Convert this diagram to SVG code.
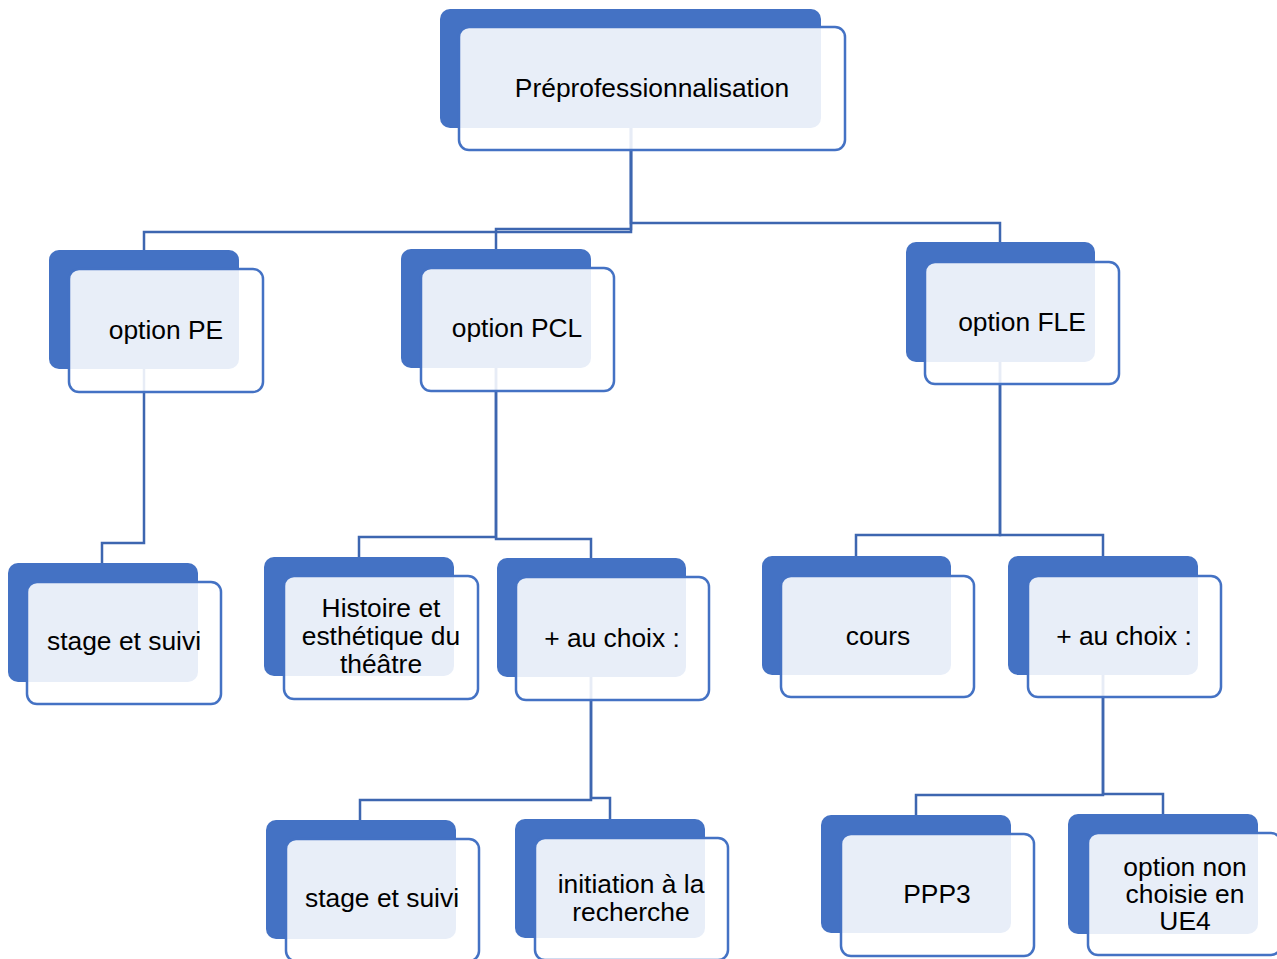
<svg xmlns="http://www.w3.org/2000/svg" width="1277" height="959" viewBox="0 0 1277 959">
<style>
.back{fill:#4472C4;}
.front{fill:#FFFFFF;fill-opacity:0.88;stroke:#4472C4;stroke-width:2.5;}
.lbl{font-family:"Liberation Sans",Arial,sans-serif;font-size:26.4px;fill:#000000;text-anchor:middle;}
.conn{fill:none;stroke:#3D66B0;stroke-width:2.5;}
</style>
<rect width="1277" height="959" fill="#FFFFFF"/>
<g id="connectors">
<path class="conn" d="M631,128 V232 H144 V250"/>
<path class="conn" d="M631,128 V229 H496 V249"/>
<path class="conn" d="M631,128 V223 H1000 V242"/>
<path class="conn" d="M144,369 V543 H102 V563"/>
<path class="conn" d="M496,368 V537 H359 V557"/>
<path class="conn" d="M496,368 V539 H591 V558"/>
<path class="conn" d="M1000,362 V535 H856 V556"/>
<path class="conn" d="M1000,362 V535 H1103 V556"/>
<path class="conn" d="M591,677 V800 H360 V820"/>
<path class="conn" d="M591,677 V798 H610 V819"/>
<path class="conn" d="M1103,675 V795 H916 V815"/>
<path class="conn" d="M1103,675 V794 H1163 V814"/>
</g>
<g id="n-prepro">
<rect class="back" x="440" y="9" width="381" height="119" rx="10"/>
<rect class="front" x="459" y="27" width="386" height="123" rx="10"/>
<text class="lbl" x="652" y="97">Préprofessionnalisation</text>
</g>
<g id="n-pe">
<rect class="back" x="49" y="250" width="190" height="119" rx="10"/>
<rect class="front" x="69" y="269" width="194" height="123" rx="10"/>
<text class="lbl" x="166" y="339">option PE</text>
</g>
<g id="n-pcl">
<rect class="back" x="401" y="249" width="190" height="119" rx="10"/>
<rect class="front" x="421" y="268" width="193" height="123" rx="10"/>
<text class="lbl" x="517" y="337">option PCL</text>
</g>
<g id="n-fle">
<rect class="back" x="906" y="242" width="189" height="120" rx="10"/>
<rect class="front" x="925" y="262" width="194" height="122" rx="10"/>
<text class="lbl" x="1022" y="331">option FLE</text>
</g>
<g id="n-stage1">
<rect class="back" x="8" y="563" width="190" height="119" rx="10"/>
<rect class="front" x="27" y="582" width="194" height="122" rx="10"/>
<text class="lbl" x="124" y="650">stage et suivi</text>
</g>
<g id="n-histoire">
<rect class="back" x="264" y="557" width="190" height="119" rx="10"/>
<rect class="front" x="284" y="576" width="194" height="123" rx="10"/>
<text class="lbl" x="381" y="617">Histoire et</text>
<text class="lbl" x="381" y="645">esthétique du</text>
<text class="lbl" x="381" y="673">théâtre</text>
</g>
<g id="n-choix-pcl">
<rect class="back" x="497" y="558" width="189" height="119" rx="10"/>
<rect class="front" x="516" y="577" width="193" height="123" rx="10"/>
<text class="lbl" x="612" y="647">+ au choix :</text>
</g>
<g id="n-cours">
<rect class="back" x="762" y="556" width="189" height="119" rx="10"/>
<rect class="front" x="781" y="576" width="193" height="121" rx="10"/>
<text class="lbl" x="878" y="645">cours</text>
</g>
<g id="n-choix-fle">
<rect class="back" x="1008" y="556" width="190" height="119" rx="10"/>
<rect class="front" x="1028" y="576" width="193" height="121" rx="10"/>
<text class="lbl" x="1124" y="645">+ au choix :</text>
</g>
<g id="n-stage2">
<rect class="back" x="266" y="820" width="190" height="119" rx="10"/>
<rect class="front" x="286" y="839" width="193" height="122" rx="10"/>
<text class="lbl" x="382" y="907">stage et suivi</text>
</g>
<g id="n-initiation">
<rect class="back" x="515" y="819" width="190" height="119" rx="10"/>
<rect class="front" x="535" y="838" width="193" height="122" rx="10"/>
<text class="lbl" x="631" y="893">initiation à la</text>
<text class="lbl" x="631" y="921">recherche</text>
</g>
<g id="n-ppp3">
<rect class="back" x="821" y="815" width="190" height="118" rx="10"/>
<rect class="front" x="841" y="834" width="193" height="122" rx="10"/>
<text class="lbl" x="937" y="903">PPP3</text>
</g>
<g id="n-optnon">
<rect class="back" x="1068" y="814" width="190" height="120" rx="10"/>
<rect class="front" x="1088" y="833" width="193" height="122" rx="10"/>
<text class="lbl" x="1185" y="876">option non</text>
<text class="lbl" x="1185" y="903">choisie en</text>
<text class="lbl" x="1185" y="930">UE4</text>
</g>
</svg>
